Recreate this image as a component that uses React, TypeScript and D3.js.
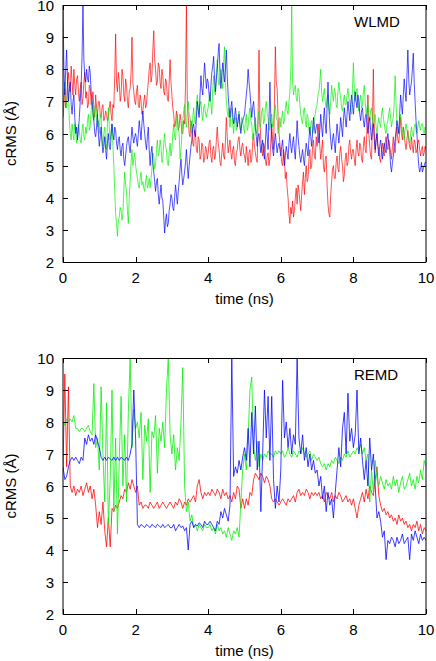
import React from 'react';
import * as d3 from 'd3';

const X_TICKS = [0, 2, 4, 6, 8, 10];
const Y_TICKS = [2, 3, 4, 5, 6, 7, 8, 9, 10];
// every series is sampled evenly from 0 to 10 ns
const T_START = 0;
const T_END = 10;

// ---------- WLMD (0.025 ns sampling) ----------
const WLMD_RED = [
  6.5, 6.9, 7.4, 6.8, 7.0, 7.6, 7.9, 7.4, 7.3, 8.1, 7.6, 7.2, 8.0, 7.5, 7.2, 7.7, 7.8, 7.3, 7.0, 7.4, 7.6, 6.9, 7.1, 7.6, 7.9, 7.1, 7.3, 6.8, 6.9, 7.5, 7.4, 6.9, 7.0, 7.3, 6.8, 6.5, 7.2, 6.8, 6.6, 7.0,
  7.0, 6.6, 6.5, 6.8, 6.9, 6.4, 6.5, 6.7, 6.6, 6.4, 6.5, 6.8, 7.0, 6.6, 6.4, 6.9, 6.8, 7.8, 9.1, 7.6, 7.3, 7.9, 7.6, 7.0, 7.2, 8.0, 7.8, 7.2, 7.0, 7.7, 7.5, 7.0, 6.8, 7.3, 7.4, 7.9, 9.0, 7.6, 7.3, 7.0,
  6.9, 7.3, 7.5, 6.9, 6.8, 7.2, 7.0, 6.6, 6.7, 7.0, 7.2, 6.8, 6.9, 7.3, 7.6, 8.0, 8.2, 7.6, 7.8, 8.6, 9.2, 8.3, 8.0, 7.5, 7.6, 8.2, 8.1, 7.6, 7.4, 8.0, 7.8, 7.3, 7.2, 7.7, 7.6, 7.1, 7.0, 7.6, 8.3, 7.6,
  7.2, 6.8, 6.6, 6.2, 6.3, 6.7, 6.5, 6.1, 6.2, 6.6, 6.4, 6.0, 6.0, 6.4, 6.3, 7.5, 10.0, 7.0, 6.5, 6.0, 5.9, 6.4, 6.2, 5.7, 5.6, 6.1, 6.0, 5.5, 5.4, 5.9, 5.8, 5.2, 5.3, 5.7, 5.6, 5.1, 5.2, 5.6, 5.5, 5.2,
  5.4, 5.7, 5.8, 5.3, 5.1, 5.5, 5.6, 5.2, 5.3, 5.8, 6.2, 5.7, 5.5, 5.1, 5.0, 5.4, 5.7, 5.3, 5.2, 5.8, 6.5, 5.9, 5.4, 5.6, 5.8, 5.4, 5.2, 5.5, 5.6, 5.1, 5.0, 5.4, 5.5, 5.8, 5.9, 5.5, 5.3, 5.6, 5.7, 5.4,
  5.3, 5.1, 5.6, 5.3, 5.0, 5.4, 5.5, 5.1, 5.2, 5.7, 6.0, 5.6, 5.4, 5.2, 5.1, 6.5, 8.6, 6.4, 5.8, 5.5, 5.3, 5.7, 5.6, 5.2, 5.0, 5.3, 5.4, 5.0, 5.2, 5.8, 6.3, 5.8, 5.5, 7.0, 8.7, 7.6, 7.4, 6.5, 6.0, 5.7,
  5.4, 5.1, 5.0, 5.5, 5.3, 4.6, 4.8, 4.3, 4.0, 3.5, 3.2, 3.7, 3.5, 3.9, 3.4, 3.6, 4.0, 4.3, 3.8, 4.4, 4.2, 3.9, 3.6, 4.1, 4.5, 4.8, 4.1, 4.6, 5.0, 4.5, 4.6, 5.2, 5.5, 4.9, 5.0, 5.6, 5.8, 5.3, 5.2, 5.9,
  5.6, 6.0, 6.3, 5.6, 5.2, 5.5, 5.8, 5.0, 4.8, 5.2, 5.3, 4.4, 3.8, 3.5, 3.4, 4.1, 4.5, 4.9, 5.0, 4.6, 4.6, 5.1, 5.3, 4.9, 4.8, 5.4, 5.6, 5.2, 5.0, 4.5, 4.7, 5.2, 5.4, 5.0, 5.1, 5.6, 5.8, 5.4, 5.2, 5.5,
  5.5, 5.2, 5.0, 5.5, 5.8, 5.4, 5.3, 5.7, 5.6, 5.2, 5.1, 5.6, 5.9, 5.5, 5.4, 6.2, 7.2, 6.0, 5.6, 5.3, 5.2, 6.4, 8.0, 6.1, 5.4, 5.8, 6.0, 5.6, 5.5, 5.2, 5.1, 5.5, 5.7, 5.4, 5.3, 5.7, 5.9, 5.6, 5.5, 5.8,
  5.6, 5.4, 5.2, 5.6, 5.9, 5.5, 5.4, 5.9, 6.2, 5.8, 5.7, 6.1, 6.5, 6.0, 5.8, 6.2, 6.0, 5.7, 5.5, 5.8, 6.1, 5.8, 5.6, 5.5, 5.9, 5.6, 5.4, 5.8, 5.7, 5.4, 5.5, 5.7, 5.8, 5.5, 5.3, 5.5, 5.6, 5.3, 5.4, 5.6,
  5.5,
];
const WLMD_GREEN = [
  6.5, 7.2, 7.6, 7.0, 6.8, 7.4, 7.2, 6.4, 6.0, 5.8, 6.3, 6.0, 5.8, 6.3, 6.2, 5.7, 5.9, 6.3, 6.1, 5.8, 5.7, 6.1, 6.3, 5.9, 5.8, 6.2, 6.0, 6.4, 6.6, 6.1, 6.2, 6.7, 7.0, 6.5, 6.4, 6.8, 6.9, 6.5, 6.2, 6.4,
  6.0, 6.6, 6.5, 5.9, 5.6, 6.0, 6.2, 5.7, 5.5, 6.3, 6.8, 6.2, 5.8, 6.1, 6.3, 5.6, 5.0, 4.2, 3.5, 3.2, 2.8, 3.3, 3.4, 3.7, 3.6, 3.3, 3.5, 4.2, 4.8, 4.4, 4.2, 3.6, 3.2, 4.0, 4.5, 5.1, 5.5, 5.0, 5.2, 5.4,
  5.0, 4.8, 4.6, 4.4, 4.3, 4.6, 4.8, 4.4, 4.5, 4.3, 4.2, 4.5, 4.7, 4.3, 4.4, 4.6, 4.3, 4.6, 4.9, 5.4, 5.3, 4.9, 5.0, 5.5, 5.8, 5.3, 5.4, 5.8, 5.6, 5.1, 5.2, 5.7, 6.0, 5.6, 5.5, 5.1, 5.0, 5.4, 5.7, 5.3,
  5.5, 6.0, 6.3, 5.9, 5.8, 6.4, 6.6, 6.2, 6.0, 5.2, 5.5, 6.0, 6.4, 6.7, 6.9, 6.4, 6.2, 6.7, 7.0, 6.6, 6.5, 6.1, 6.0, 6.5, 6.8, 6.4, 6.3, 6.9, 7.2, 6.8, 6.6, 6.9, 7.0, 6.6, 6.4, 6.8, 6.9, 6.6, 6.5, 6.7,
  6.8, 7.1, 7.3, 6.9, 6.6, 7.4, 7.8, 7.3, 7.2, 7.9, 8.3, 7.7, 7.5, 7.8, 8.0, 7.6, 7.4, 8.2, 8.7, 7.6, 7.0, 6.7, 6.5, 6.8, 6.2, 6.6, 6.8, 6.3, 6.0, 6.4, 6.5, 6.1, 6.2, 6.5, 6.7, 6.3, 6.1, 6.5, 6.4, 6.2,
  6.0, 6.4, 6.6, 6.1, 6.2, 6.6, 6.8, 6.4, 6.3, 5.8, 5.9, 6.3, 6.5, 6.0, 6.1, 6.5, 6.7, 6.2, 6.3, 6.7, 6.8, 6.3, 6.4, 6.8, 7.0, 6.6, 6.5, 6.1, 6.2, 6.5, 6.6, 6.2, 6.3, 6.7, 6.9, 6.5, 6.4, 6.0, 6.1, 6.5,
  6.2, 6.5, 6.7, 6.3, 6.4, 6.8, 7.0, 6.7, 6.6, 7.0, 7.3, 8.0, 10.0, 7.6, 7.2, 7.4, 7.5, 7.1, 7.0, 7.4, 7.3, 6.9, 6.6, 6.4, 6.3, 6.7, 6.8, 6.4, 6.2, 6.6, 6.5, 6.1, 6.0, 6.3, 6.4, 6.0, 6.1, 6.5, 6.6, 6.8,
  6.9, 7.2, 7.3, 7.6, 8.0, 7.3, 7.0, 7.2, 7.4, 7.0, 6.8, 7.1, 7.2, 6.8, 6.6, 7.0, 7.5, 7.2, 7.0, 7.4, 7.3, 6.9, 6.8, 7.3, 7.6, 7.3, 7.1, 6.8, 6.7, 7.0, 7.2, 6.9, 6.9, 7.2, 7.4, 7.1, 7.0, 6.7, 6.6, 7.4,
  8.2, 7.4, 7.0, 7.2, 7.4, 7.0, 6.7, 7.0, 7.2, 6.8, 6.9, 7.3, 7.5, 7.0, 6.6, 6.8, 7.0, 6.6, 6.4, 6.7, 6.8, 6.4, 6.2, 6.5, 6.6, 6.2, 6.0, 6.3, 6.5, 6.3, 6.2, 6.6, 6.8, 6.5, 6.3, 6.1, 6.0, 6.3, 6.4, 6.6,
  6.8, 6.5, 6.2, 6.4, 6.5, 7.0, 7.8, 6.9, 6.3, 6.2, 6.0, 6.3, 6.6, 6.3, 6.1, 5.9, 5.8, 6.1, 6.3, 6.1, 6.0, 5.8, 5.7, 6.0, 6.2, 6.0, 5.9, 6.2, 6.3, 6.1, 6.0, 6.2, 6.4, 6.2, 6.1, 6.3, 6.3, 6.1, 6.0, 6.2,
  6.1,
];
const WLMD_BLUE = [
  10.0, 8.0, 7.2, 8.0, 8.6, 7.6, 7.0, 7.4, 7.6, 6.9, 6.6, 7.0, 7.2, 6.5, 6.0, 6.2, 5.8, 6.1, 6.5, 7.0, 7.5, 8.4, 10.0, 8.3, 7.8, 7.6, 8.0, 7.7, 7.6, 8.1, 7.9, 7.3, 7.0, 6.7, 6.4, 6.0, 5.9, 6.2, 6.6, 6.0,
  5.6, 5.9, 6.2, 5.7, 5.4, 5.6, 5.9, 5.5, 5.2, 5.7, 6.0, 5.6, 5.5, 5.9, 6.3, 6.0, 5.8, 6.2, 6.1, 5.7, 5.5, 5.8, 5.9, 5.5, 5.3, 5.6, 5.7, 5.2, 5.0, 5.3, 5.6, 5.8, 5.9, 5.6, 5.4, 5.8, 6.2, 5.9, 5.7, 5.9,
  6.0, 5.8, 5.6, 6.0, 6.4, 6.1, 5.8, 6.3, 6.7, 6.3, 6.0, 5.7, 5.5, 5.9, 6.2, 5.5, 5.0, 5.4, 5.6, 5.1, 4.8, 4.5, 4.2, 4.5, 4.6, 4.1, 3.8, 4.1, 4.4, 4.0, 3.9, 3.4, 2.9, 3.3, 3.5, 3.1, 3.2, 3.6, 3.8, 4.1,
  4.0, 3.7, 3.6, 4.0, 4.4, 4.1, 3.8, 4.2, 4.5, 4.9, 5.2, 4.7, 4.4, 4.6, 4.8, 5.1, 5.5, 5.0, 4.6, 5.0, 5.3, 5.6, 5.8, 6.2, 6.3, 6.0, 5.9, 6.5, 7.0, 6.7, 6.5, 7.2, 7.8, 7.4, 7.2, 7.7, 8.2, 7.8, 7.4, 7.7,
  7.6, 7.2, 7.0, 7.5, 7.9, 8.1, 8.4, 7.7, 7.3, 7.7, 8.0, 8.5, 8.8, 7.9, 7.4, 7.8, 8.2, 7.9, 7.6, 8.0, 8.6, 7.8, 7.2, 6.8, 6.5, 6.8, 7.0, 6.6, 6.3, 6.5, 6.8, 6.5, 6.2, 6.4, 6.6, 6.2, 6.0, 6.3, 6.4, 6.5,
  6.6, 6.9, 7.2, 7.5, 8.0, 7.6, 7.3, 6.9, 6.5, 6.8, 7.0, 6.6, 6.2, 5.9, 5.6, 5.9, 6.0, 5.7, 5.4, 5.6, 5.8, 5.4, 5.2, 5.7, 6.3, 5.9, 5.5, 6.4, 7.6, 6.5, 5.8, 5.5, 5.3, 5.7, 6.0, 5.7, 5.4, 5.6, 5.7, 5.5,
  5.3, 5.6, 5.8, 5.3, 5.0, 5.3, 5.6, 5.4, 5.2, 5.7, 6.0, 5.6, 5.4, 5.7, 5.9, 5.5, 5.2, 5.8, 6.4, 5.9, 5.6, 5.3, 5.1, 5.3, 5.5, 5.2, 5.0, 5.4, 5.7, 5.5, 5.3, 5.8, 6.2, 5.9, 5.6, 6.0, 6.5, 6.2, 6.0, 6.2,
  6.3, 6.0, 5.7, 6.1, 6.6, 6.2, 5.9, 6.4, 6.8, 6.3, 6.0, 6.8, 7.6, 6.8, 6.2, 5.8, 5.5, 5.8, 6.0, 5.7, 5.4, 5.9, 6.3, 6.0, 5.7, 6.1, 6.5, 6.2, 5.9, 6.4, 6.8, 6.5, 6.2, 6.6, 7.0, 6.7, 6.4, 6.9, 7.2, 6.9,
  6.6, 7.0, 7.3, 7.0, 6.8, 7.2, 7.0, 6.6, 6.4, 6.7, 6.8, 6.4, 6.2, 6.5, 6.6, 6.3, 6.0, 6.3, 6.5, 6.1, 5.8, 6.1, 6.3, 5.8, 5.5, 5.8, 6.0, 5.6, 5.3, 5.6, 5.8, 5.5, 5.2, 5.5, 5.7, 5.5, 5.4, 5.8, 6.0, 5.7,
  5.5, 5.0, 4.8, 5.1, 5.3, 5.6, 5.8, 6.1, 6.4, 6.2, 6.0, 6.6, 7.2, 6.9, 6.6, 7.2, 7.7, 7.3, 7.0, 7.8, 8.6, 7.7, 7.2, 7.4, 7.6, 8.0, 8.5, 7.6, 7.0, 6.4, 6.0, 5.4, 5.0, 4.8, 4.9, 5.1, 4.8, 4.9, 5.0, 5.1,
  5.1,
];

// ---------- REMD (0.05 ns sampling) ----------
const REMD_RED = [
  6.5, 9.5, 6.6, 9.1, 6.0, 5.8, 6.0, 5.7, 5.9, 5.8, 6.0, 5.7, 5.9, 6.1, 5.8, 6.0, 5.6, 5.9, 5.4, 4.7,
  5.2, 4.8, 5.5, 4.6, 4.1, 5.0, 4.1, 5.3, 5.2, 5.4, 5.3, 5.5, 5.7, 5.6, 5.9, 5.8, 6.1, 5.9, 6.2, 6.0,
  5.8, 6.0, 5.4, 5.5, 5.3, 5.4, 5.4, 5.3, 5.5, 5.4, 5.3, 5.4, 5.5, 5.3, 5.4, 5.5, 5.4, 5.3, 5.4, 5.5,
  5.4, 5.3, 5.5, 5.4, 5.6, 5.5, 5.3, 5.5, 5.4, 5.6, 5.5, 5.6, 5.7, 5.5, 6.0, 6.2, 5.8, 5.6, 5.8, 5.7,
  5.8, 5.7, 5.9, 5.8, 5.7, 5.9, 5.8, 5.6, 5.9, 5.7, 5.8, 5.6, 5.7, 5.5, 5.8, 5.6, 6.0, 5.9, 5.3, 5.6,
  5.3, 5.6, 5.4, 5.8, 5.7, 6.2, 6.4, 6.3, 6.2, 6.4, 6.3, 6.1, 6.3, 6.2, 6.0, 5.6, 5.5, 5.6, 5.5, 5.4,
  5.5, 5.6, 5.5, 5.4, 5.6, 5.5, 5.6, 5.7, 5.5, 5.8, 5.9, 5.7, 5.8, 5.7, 5.9, 5.8, 5.6, 5.8, 5.7, 5.8,
  5.7, 5.8, 5.6, 5.7, 5.5, 5.8, 5.7, 5.6, 5.8, 5.5, 5.7, 5.6, 5.8, 5.7, 5.5, 5.6, 5.7, 5.5, 5.6, 5.4,
  5.6, 5.3, 5.0, 5.4, 5.6, 5.8, 5.5, 5.9, 5.6, 6.0, 5.8, 5.7, 6.2, 6.6, 5.7, 5.4, 5.2, 5.3, 5.1, 5.2,
  5.0, 5.1, 4.9, 5.0, 4.8, 5.1, 4.9, 5.0, 4.8, 4.9, 4.7, 4.8, 4.6, 4.8, 4.7, 4.9, 4.6, 4.8, 4.5, 4.7,
  4.6,
];
const REMD_GREEN = [
  8.0, 7.9, 8.1, 8.0, 8.1, 8.0, 8.2, 7.8, 7.8, 7.7, 7.8, 7.8, 7.7, 7.8, 7.9, 7.7, 7.6, 9.2, 7.2, 7.5,
  6.5, 9.1, 7.0, 5.5, 8.6, 4.8, 6.2, 9.0, 5.2, 7.5, 4.5, 6.8, 8.8, 6.0, 7.6, 5.5, 8.3, 10.0, 7.2, 8.4,
  7.8, 8.0, 7.5, 8.3, 6.2, 7.9, 7.4, 8.1, 5.8, 7.7, 7.5, 8.2, 6.4, 7.8, 7.4, 8.0, 7.2, 9.0, 10.0, 7.6,
  7.0, 7.6, 6.5, 7.2, 6.8, 8.0, 9.7, 6.0, 5.2, 5.5, 4.9, 5.1, 4.7, 4.8, 4.6, 4.8, 4.7, 4.6, 4.8, 4.7,
  4.7, 4.8, 4.6, 4.7, 4.5, 4.8, 4.6, 4.7, 4.5, 4.6, 4.4, 4.7, 4.5, 4.3, 4.6, 4.5, 4.7, 4.4, 5.5, 6.5,
  7.0, 6.5, 7.5, 9.0, 9.4, 7.2, 6.8, 7.4, 6.6, 7.0, 6.8, 7.0, 6.9, 7.1, 7.0, 7.0, 6.9, 7.1, 7.0, 7.1,
  7.0, 7.1, 6.9, 7.0, 7.2, 7.0, 6.9, 7.1, 7.0, 6.9, 7.1, 7.0, 7.2, 7.0, 6.9, 7.0, 7.1, 6.8, 7.0, 6.9,
  6.8, 6.9, 6.7, 6.6, 6.7, 6.5, 6.7, 6.6, 6.8, 6.7, 6.9, 6.8, 6.7, 6.9, 6.8, 7.0, 6.9, 7.1, 6.9, 7.0,
  7.1, 7.0, 7.2, 7.1, 7.3, 7.0, 7.2, 6.8, 7.0, 5.5, 6.5, 5.8, 6.8, 6.2, 6.0, 6.3, 6.1, 5.9, 6.2, 6.0,
  6.1, 5.9, 6.3, 6.0, 6.2, 5.8, 6.1, 6.3, 5.9, 6.0, 6.2, 6.4, 6.0, 6.2, 5.9, 6.3, 6.1, 6.5, 6.2, 6.8,
  6.6,
];
const REMD_BLUE = [
  6.6, 6.2, 6.3, 6.6, 6.8, 6.9, 6.8, 6.9, 6.8, 6.7, 6.9, 6.8, 7.5, 7.3, 7.6, 7.4, 7.5, 7.3, 7.6, 7.4,
  7.2, 6.9, 6.8, 6.9, 6.8, 6.9, 6.85, 6.8, 6.9, 6.8, 6.9, 6.8, 6.9, 6.85, 6.8, 6.9, 6.8, 7.0, 7.3, 9.0,
  7.5, 4.8, 4.7, 4.8, 4.75, 4.7, 4.8, 4.75, 4.7, 4.8, 4.75, 4.7, 4.8, 4.75, 4.7, 4.8, 4.7, 4.75, 4.8, 4.7,
  4.7, 4.8, 4.6, 4.7, 4.8, 4.7, 4.75, 4.6, 4.7, 4.0, 4.8, 4.9, 4.7, 4.8, 4.75, 4.85, 4.8, 4.7, 4.9, 4.8,
  4.8, 4.9, 4.8, 4.7, 4.6, 4.9, 4.8, 5.2, 5.0, 5.3, 5.1, 4.9, 5.4, 10.0, 6.3, 6.6, 6.4, 6.8, 6.5, 6.9,
  7.2, 6.8, 7.8, 6.6, 8.3, 7.0, 8.5, 6.5, 7.4, 5.2, 7.0, 9.0, 7.5, 8.8, 6.8, 8.8, 6.2, 5.3, 6.0, 5.5,
  6.5, 9.3, 7.5, 8.0, 7.2, 7.8, 7.0, 7.6, 7.3, 10.0, 7.5, 7.0, 7.6, 6.8, 7.2, 6.6, 7.0, 6.5, 6.8, 6.4,
  6.5, 6.0, 6.3, 5.6, 6.0, 5.2, 5.8, 5.4, 5.6, 5.0, 5.8, 6.5, 7.2, 6.6, 7.8, 8.3, 7.0, 8.9, 7.4, 7.8,
  7.2, 7.6, 9.0, 7.0, 7.5, 6.8, 6.2, 6.8, 6.0, 7.5, 6.5, 7.0, 6.0, 5.0, 5.2, 4.9, 4.4, 4.6, 3.7, 4.3,
  4.2, 4.4, 4.3, 4.1, 4.4, 4.2, 4.3, 4.5, 4.2, 4.3, 4.4, 3.7, 4.5, 4.3, 4.6, 4.4, 4.2, 4.5, 4.3, 4.4,
  4.3,
];

const RED = '#ff0000';
const GREEN = '#00ee00';
const BLUE = '#0000ff';
const FONT = '"Liberation Sans", Arial, Helvetica, sans-serif';

const LEFT = 63;
const RIGHT = 426;

type PanelProps = {
  top: number;
  bottom: number;
  label: string;
  red: number[];
  green: number[];
  blue: number[];
  id: string;
  sw: number;
};

function Panel({ top, bottom, label, red, green, blue, id, sw }: PanelProps) {
  const x = d3.scaleLinear().domain([T_START, T_END]).range([LEFT, RIGHT]);
  const y = d3.scaleLinear().domain([2, 10]).range([bottom, top]);
  const line = d3
    .line<number>()
    .x((_, i, arr) => x(T_START + ((T_END - T_START) * i) / ((arr as number[]).length - 1)))
    .y((d) => y(d));
  const tl = 5;
  const series: [number[], string][] = [
    [red, RED],
    [green, GREEN],
    [blue, BLUE],
  ];
  return (
    <g>
      <defs>
        <clipPath id={id}>
          <rect x={LEFT} y={top} width={RIGHT - LEFT} height={bottom - top} />
        </clipPath>
      </defs>
      <g clipPath={`url(#${id})`}>
        {series.map(([d, c], k) => (
          <path key={k} d={line(d) || ''} fill="none" stroke={c} strokeWidth={sw} strokeOpacity={0.85} strokeLinejoin="round" />
        ))}
      </g>
      <line x1={LEFT} x2={LEFT} y1={top} y2={bottom + 0.5} stroke="#000" strokeWidth={1} />
      <line x1={RIGHT} x2={RIGHT} y1={top} y2={bottom + 0.5} stroke="#000" strokeWidth={1} />
      <line x1={LEFT} x2={RIGHT} y1={top + 0.5} y2={top + 0.5} stroke="#000" strokeWidth={1} />
      <line x1={LEFT} x2={RIGHT} y1={bottom + 0.5} y2={bottom + 0.5} stroke="#000" strokeWidth={1} />
      {Y_TICKS.map((v) => (
        <g key={'y' + v}>
          <line x1={LEFT} x2={LEFT + tl} y1={Math.round(y(v)) + 0.5} y2={Math.round(y(v)) + 0.5} stroke="#000" />
          <line x1={RIGHT - tl} x2={RIGHT} y1={Math.round(y(v)) + 0.5} y2={Math.round(y(v)) + 0.5} stroke="#000" />
          <text x={54} y={y(v)} dy="0.4em" textAnchor="end" fontFamily={FONT} fontSize={15} fill="#000">
            {v}
          </text>
        </g>
      ))}
      {X_TICKS.map((v) => (
        <g key={'x' + v}>
          <line x1={Math.round(x(v)) + 0.5} x2={Math.round(x(v)) + 0.5} y1={bottom} y2={bottom - tl} stroke="#000" />
          <line x1={Math.round(x(v)) + 0.5} x2={Math.round(x(v)) + 0.5} y1={top} y2={top + tl} stroke="#000" />
          <text x={x(v)} y={bottom + 21} textAnchor="middle" fontFamily={FONT} fontSize={15} fill="#000">
            {v}
          </text>
        </g>
      ))}
      <text x={(LEFT + RIGHT) / 2} y={bottom + 42} textAnchor="middle" fontFamily={FONT} fontSize={15} fill="#000">
        time (ns)
      </text>
      <text
        transform={`translate(16,${(top + bottom) / 2}) rotate(-90)`}
        textAnchor="middle"
        fontFamily={FONT}
        fontSize={15}
        fill="#000"
      >
        cRMS (Å)
      </text>
      <text x={354} y={top + 22} fontFamily={FONT} fontSize={15} fill="#000">
        {label}
      </text>
    </g>
  );
}

export default function App() {
  return (
    <svg width={436} height={661} style={{ position: 'absolute', left: 0, top: 0, background: '#fff' }}>
      <rect width={436} height={661} fill="#fff" />
      <Panel top={5} bottom={262} label="WLMD" red={WLMD_RED} green={WLMD_GREEN} blue={WLMD_BLUE} id="clipA" sw={0.8} />
      <Panel top={358} bottom={614} label="REMD" red={REMD_RED} green={REMD_GREEN} blue={REMD_BLUE} id="clipB" sw={0.9} />
    </svg>
  );
}
